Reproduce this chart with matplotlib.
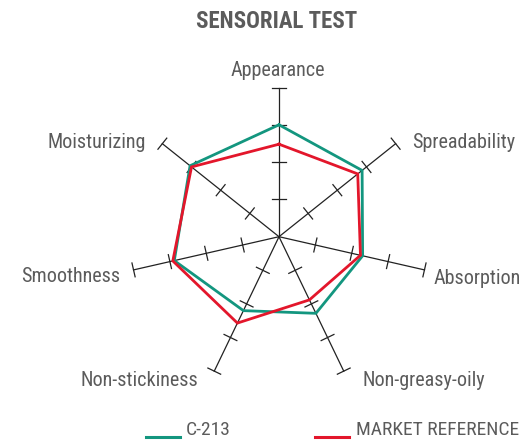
import numpy as np
import matplotlib
matplotlib.use("Agg")
import matplotlib.pyplot as plt
from matplotlib.lines import Line2D

categories = ["Appearance", "Spreadability", "Absorption", "Non-greasy-oily",
              "Non-stickiness", "Smoothness", "Moisturizing"]
c213 = [3.0, 2.85, 2.3, 2.28, 2.2, 2.88, 3.05]
market = [2.48, 2.7, 2.24, 1.88, 2.57, 2.92, 3.0]
scale_ticks = [1, 2, 3, 4]
series_names = ["C-213", "MARKET REFERENCE"]

TEAL = "#13967f"
RED = "#e3162b"
GREY = "#5b5b5b"
FONT = ["Liberation Sans Narrow", "Roboto Condensed", "DejaVu Sans"]
plt.rcParams["font.family"] = FONT

W, H = 522, 442
fig = plt.figure(figsize=(W / 100, H / 100), dpi=100)
ax = fig.add_axes([0, 0, 1, 1])
unit = 37.3
cx, cy = 279.0, 205.3  # pixel center from bottom-left
ax.set_xlim(-cx / unit, (W - cx) / unit)
ax.set_ylim(-cy / unit, (H - cy) / unit)
ax.set_aspect("equal")
ax.axis("off")

n = len(categories)
angles = np.pi / 2 - 2 * np.pi * np.arange(n) / n
rmax = scale_ticks[-1]
cap = 0.19

for a in angles:
    ux, uy = np.cos(a), np.sin(a)
    ax.plot([0, rmax * ux], [0, rmax * uy], color="#222222", lw=0.9, zorder=1)
    for t in scale_ticks:
        px, py = t * ux, t * uy
        ax.plot([px - cap * -uy, px + cap * -uy], [py - cap * ux, py + cap * ux],
                color="#222222", lw=0.9, zorder=1)

def poly(vals, color, z):
    v = np.array(vals + vals[:1])
    a = np.concatenate([angles, angles[:1]])
    ax.plot(v * np.cos(a), v * np.sin(a), color=color, lw=2.0, zorder=z,
            solid_joinstyle="miter")

poly(market, RED, 3)
poly(c213, TEAL, 2)

# labels: (pixel x, pixel y from top, ha)
label_pos = {
    "Appearance": (278, 70, "center"),
    "Spreadability": (412, 143, "left"),
    "Absorption": (434, 279, "left"),
    "Non-greasy-oily": (362, 380, "left"),
    "Non-stickiness": (198, 380, "right"),
    "Smoothness": (120, 277, "right"),
    "Moisturizing": (146, 142, "right"),
}
for cat in categories:
    px, py, ha = label_pos[cat]
    fig.text(px / W, 1 - py / H, cat, ha=ha, va="center", fontsize=14.5, color=GREY)

fig.text(277 / W, 1 - 22 / H, "SENSORIAL TEST", ha="center", va="center",
         fontsize=16.5, fontweight="bold", color=GREY)

# legend
for (x0, x1, tx, name, col) in [(146, 180, 186, series_names[0], TEAL),
                                (315, 349, 356, series_names[1], RED)]:
    fig.add_artist(Line2D([x0 / W, x1 / W], [1 - 437 / H, 1 - 437 / H],
                          color=col, lw=2.2, transform=fig.transFigure))
    fig.text(tx / W, 1 - 430 / H, name, ha="left", va="center", fontsize=14,
             color=GREY)

fig.savefig("out.png", dpi=100)
